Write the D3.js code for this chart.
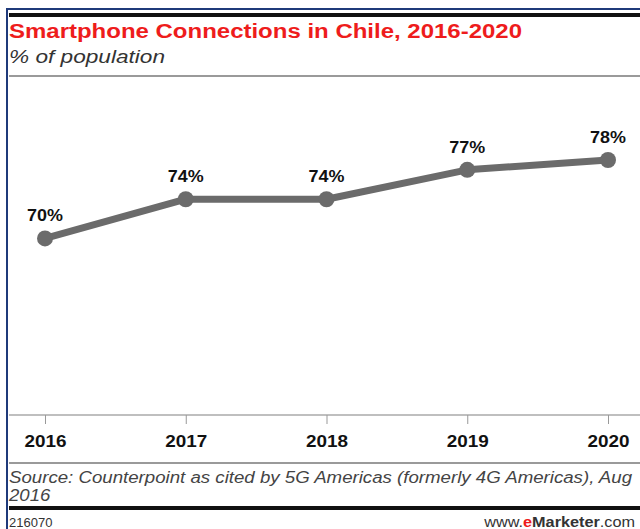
<!DOCTYPE html>
<html>
<head>
<meta charset="utf-8">
<script src="https://cdn.jsdelivr.net/npm/d3@7"></script>
<style>
  body { margin: 0; background: #fff; }
  text { font-family: "Liberation Sans", Arial, sans-serif; }
</style>
</head>
<body>
<div id="chart"></div>
<script>
// chart data
const years = ["2016", "2017", "2018", "2019", "2020"];
const values = [70, 74, 74, 77, 78];
const valueLabels = ["70%", "74%", "74%", "77%", "78%"];

const width = 640, height = 529;

const svg = d3.select("#chart").append("svg")
    .attr("width", width)
    .attr("height", height);

// the original type is a bit wider than Liberation Sans, so stretch it
function stretch(sel, k) {
    sel.each(function () {
        let l = this.getComputedTextLength();
        d3.select(this).attr("textLength", l * k).attr("lengthAdjust", "spacingAndGlyphs");
    });
}

// frame lines
svg.append("rect").attr("x", 6).attr("y", 8).attr("width", 2).attr("height", height - 8).attr("fill", "#1f3a7a");
svg.append("rect").attr("x", 6).attr("y", 8).attr("width", width - 6).attr("height", 2).attr("fill", "#1f3a7a");
svg.append("rect").attr("x", 9).attr("y", 13).attr("width", width - 9).attr("height", 4).attr("fill", "#111");
svg.append("rect").attr("x", 9).attr("y", 75).attr("width", width - 9).attr("height", 2).attr("fill", "#9a9a9a");
svg.append("rect").attr("x", 9).attr("y", 462).attr("width", width - 9).attr("height", 2).attr("fill", "#9a9a9a");
svg.append("rect").attr("x", 9).attr("y", 506).attr("width", width - 9).attr("height", 4).attr("fill", "#111");

// titles
svg.append("text")
    .attr("x", 9).attr("y", 38)
    .attr("fill", "#ee1c1c")
    .attr("textLength", 513).attr("lengthAdjust", "spacingAndGlyphs")
    .style("font-size", "20px").style("font-weight", "bold")
    .text("Smartphone Connections in Chile, 2016-2020");
svg.append("text")
    .attr("x", 9).attr("y", 63)
    .attr("fill", "#333")
    .attr("textLength", 156).attr("lengthAdjust", "spacingAndGlyphs")
    .style("font-size", "19px").style("font-style", "italic")
    .text("% of population");

// scales
const x = d3.scalePoint().domain(years).range([45, 608]);
const y = d3.scaleLinear().domain([52, 78]).range([415, 160]);

// x axis
const xAxis = svg.append("g")
    .attr("transform", "translate(0,415)")
    .call(d3.axisBottom(x).tickSize(9).tickPadding(11));
xAxis.select(".domain").remove();
xAxis.insert("line", ":first-child")
    .attr("x1", 9).attr("x2", width).attr("y1", 0).attr("y2", 0)
    .attr("stroke", "#aaa").attr("stroke-width", 1.5);
xAxis.selectAll(".tick line").attr("stroke", "#999");
xAxis.selectAll(".tick text")
    .attr("fill", "#111")
    .style("font-size", "17px").style("font-weight", "bold")
    .style("font-family", "'Liberation Sans', Arial, sans-serif");
stretch(xAxis.selectAll(".tick text"), 1.11);

// line and points
const data = years.map((d, i) => ({ year: d, value: values[i], label: valueLabels[i] }));

svg.append("path")
    .datum(data)
    .attr("fill", "none")
    .attr("stroke", "#6b6b6b")
    .attr("stroke-width", 7)
    .attr("stroke-linejoin", "round")
    .attr("d", d3.line().x(d => x(d.year)).y(d => y(d.value)));

svg.selectAll(".dot")
    .data(data)
    .enter()
    .append("circle")
    .attr("class", "dot")
    .attr("cx", d => x(d.year))
    .attr("cy", d => y(d.value))
    .attr("r", 8)
    .attr("fill", "#6b6b6b");

let vlabels = svg.selectAll(".vlabel")
    .data(data)
    .enter()
    .append("text")
    .attr("class", "vlabel")
    .attr("x", d => x(d.year))
    .attr("y", d => y(d.value) - 17)
    .attr("text-anchor", "middle")
    .attr("fill", "#111")
    .style("font-size", "16px").style("font-weight", "bold")
    .text(d => d.label);
stretch(vlabels, 1.12);

// source
svg.append("text")
    .attr("x", 9).attr("y", 483)
    .attr("fill", "#444")
    .attr("textLength", 623).attr("lengthAdjust", "spacingAndGlyphs")
    .style("font-size", "16px").style("font-style", "italic")
    .text("Source: Counterpoint as cited by 5G Americas (formerly 4G Americas), Aug");
let src2 = svg.append("text")
    .attr("x", 9).attr("y", 501)
    .attr("fill", "#444")
    .style("font-size", "16px").style("font-style", "italic")
    .text("2016");
stretch(src2, 1.16);

// footer
svg.append("text")
    .attr("x", 9).attr("y", 527)
    .attr("fill", "#333")
    .style("font-size", "13px")
    .text("216070");
const brand = svg.append("text")
    .attr("x", 635).attr("y", 527)
    .attr("text-anchor", "end")
    .attr("fill", "#333")
    .style("font-size", "14px");
brand.append("tspan").text("www.");
brand.append("tspan").attr("fill", "#ee1c1c").style("font-weight", "bold").text("e");
brand.append("tspan").style("font-weight", "bold").text("Marketer");
brand.append("tspan").text(".com");
stretch(brand, 1.16);
</script>
</body>
</html>
